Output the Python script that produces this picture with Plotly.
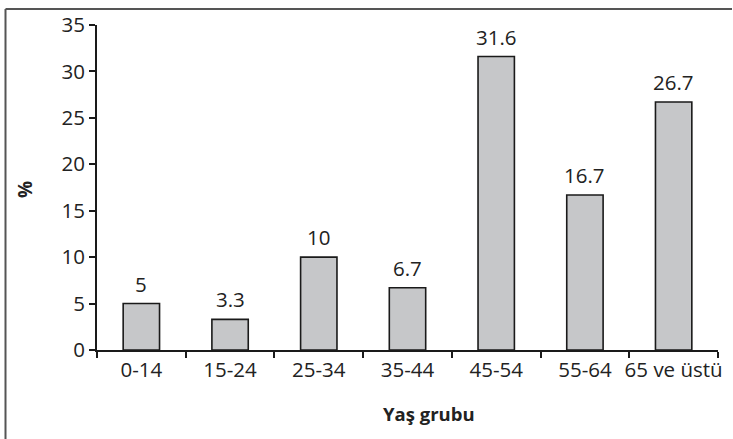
import plotly.graph_objects as go

categories = ["0-14", "15-24", "25-34", "35-44", "45-54", "55-64", "65 ve üstü"]
values = [5, 3.3, 10, 6.7, 31.6, 16.7, 26.7]
value_labels = ["5", "3.3", "10", "6.7", "31.6", "16.7", "26.7"]
y_ticks = [0, 5, 10, 15, 20, 25, 30, 35]

FONT = "Open Sans"
FS = 20.5
fig = go.Figure()
fig.add_trace(go.Bar(
    x=categories, y=values, width=0.41,
    marker=dict(color="#c6c7c9", line=dict(color="#1a1a1a", width=1.6)),
    hoverinfo="skip",
))

PW, PH, L, T = 621, 325, 97, 25
def px(xp):
    return (xp - L) / PW
def py(yp):
    return (T + PH - yp) / PH

border = dict(color="#555", width=2)
fig.update_layout(
    width=733, height=439,
    margin=dict(l=97, r=15, t=25, b=89),
    plot_bgcolor="white", paper_bgcolor="white",
    showlegend=False,
    font=dict(family=FONT, size=FS, color="#222"),
    xaxis=dict(
        type="category", showline=True, linecolor="#1a1a1a", linewidth=2,
        ticks="outside", tickson="boundaries", ticklen=6, tickwidth=2, tickcolor="#1a1a1a",
        showgrid=False, zeroline=False, range=[-0.5, 6.5], tickangle=0, automargin=False,
        tickfont=dict(family=FONT, size=FS, color="#222"),
    ),
    yaxis=dict(
        range=[0, 35], tickvals=y_ticks, showline=True, linecolor="#1a1a1a", linewidth=2,
        ticks="outside", ticklen=6, tickwidth=2, tickcolor="#1a1a1a",
        showgrid=False, zeroline=False, automargin=False,
        tickfont=dict(family=FONT, size=FS, color="#222"),
    ),
    shapes=[
        dict(type="line", xref="paper", yref="paper", x0=px(5.5), x1=px(732), y0=py(9), y1=py(9),
             line=border, layer="above"),
        dict(type="line", xref="paper", yref="paper", x0=px(5.5), x1=px(5.5), y0=py(9), y1=py(439),
             line=border, layer="above"),
    ],
)
for c, v, t in zip(categories, values, value_labels):
    fig.add_annotation(x=c, y=v, text=t, showarrow=False, yanchor="bottom",
                       yshift=4, font=dict(family=FONT, size=FS, color="#222"))
fig.add_annotation(xref="paper", yref="paper", x=px(429), y=py(413),
                   text="<b>Yaş grubu</b>", showarrow=False, xanchor="center", yanchor="middle",
                   font=dict(family=FONT, size=18.5, color="#222"))
fig.add_annotation(xref="paper", yref="paper", x=px(25), y=py(190),
                   text="<b>%</b>", textangle=-90, showarrow=False, xanchor="center", yanchor="middle",
                   font=dict(family=FONT, size=19, color="#222"))
fig.write_html("out.html", config={"displayModeBar": False},
               post_script="document.body.style.margin='0';")
